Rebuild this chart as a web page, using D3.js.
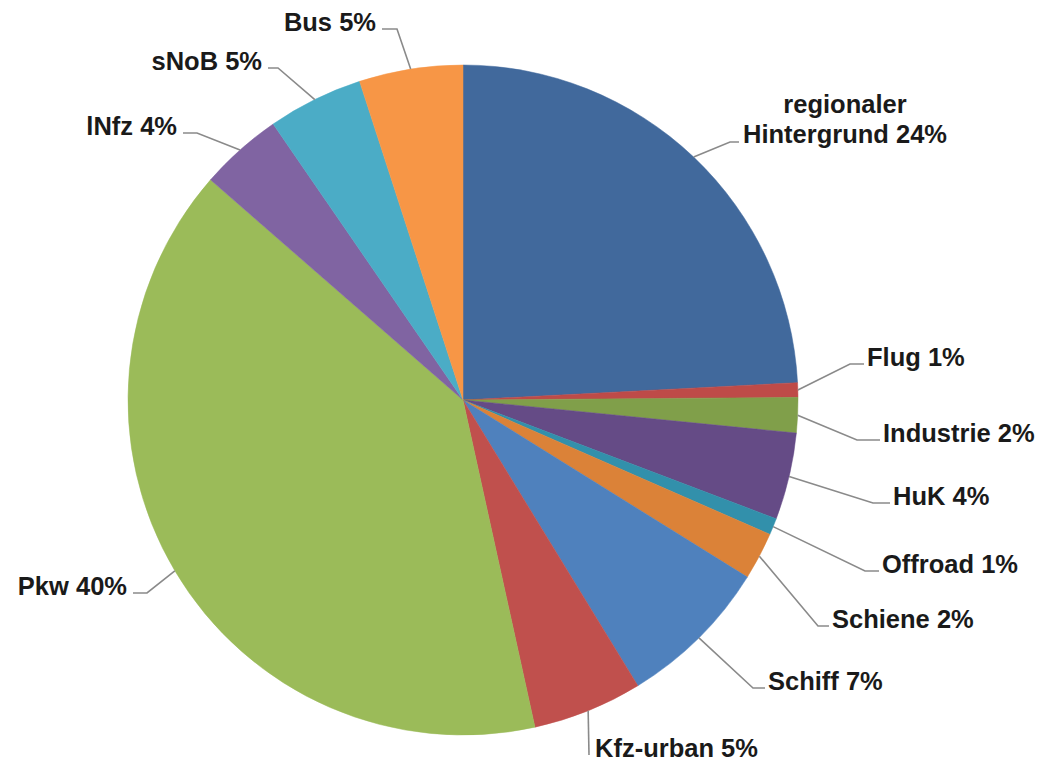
<!DOCTYPE html>
<html>
<head>
<meta charset="utf-8">
<script src="https://cdn.jsdelivr.net/npm/d3@7"></script>
<style>
  html, body { margin: 0; padding: 0; background: #ffffff; }
  svg { display: block; }
  text { font-family: "Liberation Sans", Arial, sans-serif; font-weight: bold; fill: #1a1a1a; }
</style>
</head>
<body>
<svg id="chart" width="1039" height="764"></svg>
<script>
// ---- data ----
const categories = ["regionaler Hintergrund", "Flug", "Industrie", "HuK", "Offroad", "Schiene",
                    "Schiff", "Kfz-urban", "Pkw", "lNfz", "sNoB", "Bus"];
const shares = [24.2, 0.7, 1.7, 4.2, 0.8, 2.3, 7.4, 5.3, 39.9, 4.0, 4.6, 5.0];

// ---- styling / layout (not data) ----
const colors = ["#41699C", "#BE4B48", "#809F4A", "#654B86", "#3290AB", "#DB8238",
                "#4F81BD", "#C0504D", "#9BBB59", "#8064A2", "#4BACC6", "#F79646"];
// leader-line elbow and end points, side of label
const labelLayout = [
  {elbow: [730, 142], end: [739, 142], side: "right", multi: true},
  {elbow: [850, 364], end: [864, 364], side: "right"},
  {elbow: [857, 440], end: [880, 440], side: "right"},
  {elbow: [873, 503], end: [890, 503], side: "right"},
  {elbow: [865, 571], end: [879, 571], side: "right"},
  {elbow: [818, 626], end: [829, 626], side: "right"},
  {elbow: [753, 688], end: [765, 688], side: "right"},
  {elbow: [589, 755], end: [589, 755], side: "right", gap: 6},
  {elbow: [147, 593], end: [133, 593], side: "left"},
  {elbow: [197, 133], end: [183, 133], side: "left"},
  {elbow: [278, 68],  end: [268, 68],  side: "left"},
  {elbow: [397, 29],  end: [382, 29],  side: "left"}
];

const cx = 463, cy = 400, radius = 335;
const svg = d3.select("#chart");
const g = svg.append("g").attr("transform", `translate(${cx},${cy})`);

const pie = d3.pie().sort(null).value(d => d).startAngle(0).endAngle(2 * Math.PI);
const arcs = pie(shares);
const arc = d3.arc().innerRadius(0).outerRadius(radius);

g.selectAll("path.slice")
  .data(arcs)
  .join("path")
  .attr("class", "slice")
  .attr("d", arc)
  .attr("fill", (d, i) => colors[i])
  .attr("stroke", (d, i) => colors[i])
  .attr("stroke-width", 0.5);

// leader lines
const lines = svg.append("g");
arcs.forEach((d, i) => {
  const mid = (d.startAngle + d.endAngle) / 2;
  const sx = cx + radius * Math.sin(mid);
  const sy = cy - radius * Math.cos(mid);
  const L = labelLayout[i];
  lines.append("path")
    .attr("d", d3.line()([[sx, sy], L.elbow, L.end]))
    .attr("fill", "none")
    .attr("stroke", "#8a8a8a")
    .attr("stroke-width", 1.6);

  const pct = Math.round(shares[i]) + "%";
  const gap = L.gap || 3;
  if (L.multi) {
    const words = categories[i].split(" ");
    const t = svg.append("text")
      .attr("text-anchor", "middle")
      .attr("font-size", "25.5px");
    const tx = L.end[0] + gap + 103;
    t.append("tspan").attr("x", tx).attr("y", L.end[1] - 29).text(words[0]);
    t.append("tspan").attr("x", tx).attr("y", L.end[1] + 1).text(words.slice(1).join(" ") + " " + pct);
  } else {
    svg.append("text")
      .attr("x", L.side === "right" ? L.end[0] + gap : L.end[0] - gap - 3)
      .attr("y", L.end[1] + 2)
      .attr("text-anchor", L.side === "right" ? "start" : "end")
      .attr("font-size", "25.5px")
      .text(categories[i] + " " + pct);
  }
});
</script>
</body>
</html>
